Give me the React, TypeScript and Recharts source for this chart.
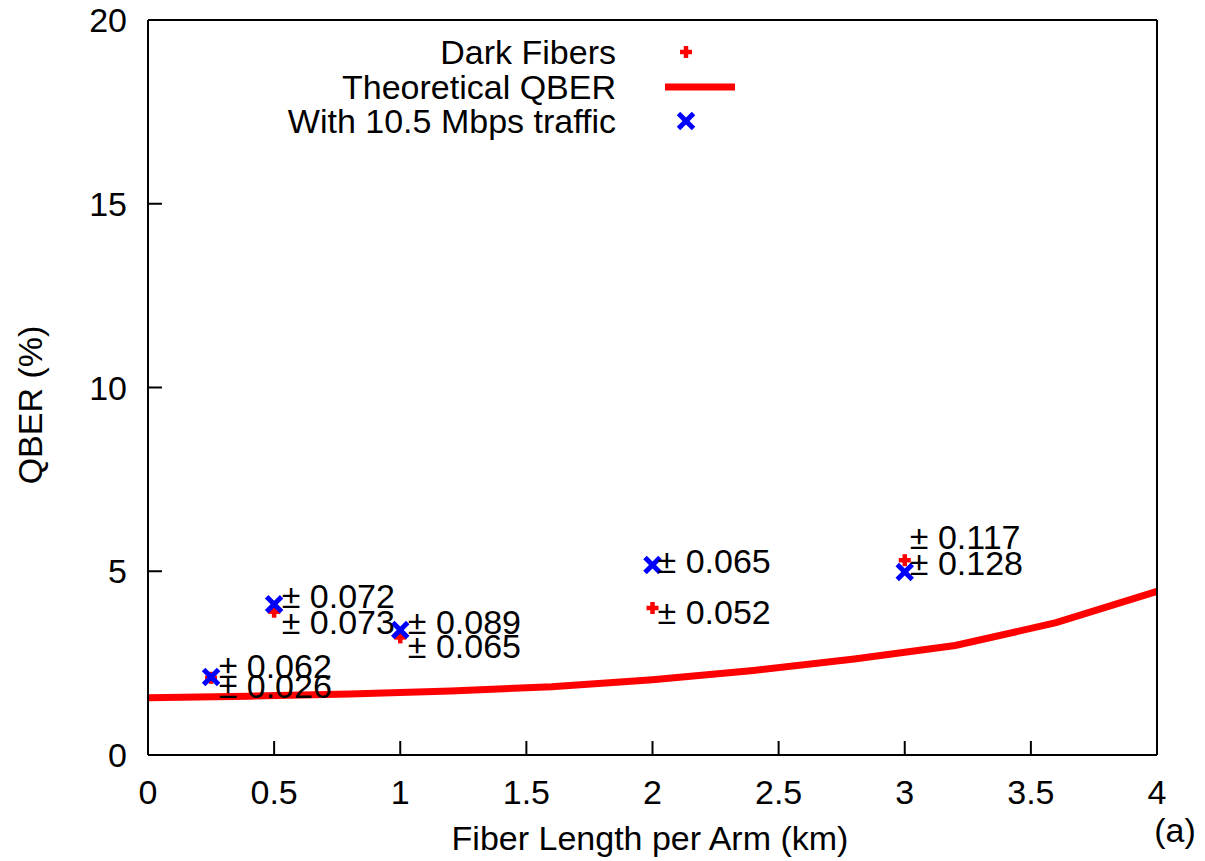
import { ComposedChart, Line, Scatter, XAxis, YAxis } from "recharts";

// measured points per fiber length
const lengths = [0.25, 0.5, 1, 2, 3];
const darkQber = [2.1, 3.9, 3.2, 4.0, 5.3];
const trafficQber = [2.12, 4.1, 3.4, 5.17, 4.98];
const darkErr = ["0.026", "0.073", "0.065", "0.052", "0.117"];
const trafficErr = ["0.062", "0.072", "0.089", "0.065", "0.128"];

// annotation anchors (data coords)
const labelX = [0.28, 0.53, 1.03, 2.02, 3.02];
const darkLabelY = [1.88, 3.62, 2.97, 3.89, 5.93];
const trafficLabelY = [2.42, 4.33, 3.62, 5.28, 5.22];

// theoretical curve
const theoryX = [0, 0.4, 0.8, 1.2, 1.6, 2.0, 2.4, 2.8, 3.2, 3.6, 4.0];
const theoryY = [1.56, 1.6, 1.66, 1.74, 1.86, 2.05, 2.3, 2.61, 2.98, 3.6, 4.45];

const xTicks = [0, 0.5, 1, 1.5, 2, 2.5, 3, 3.5, 4];
const yTicks = [0, 5, 10, 15, 20];

const FONT = "'Liberation Sans', Arial, Helvetica, sans-serif";
const FS = 34;
const RED = "#ff0000";
const BLUE = "#0000ff";
const TICK = 14;

const darkData = lengths.map((x, i) => ({ x, y: darkQber[i] }));
const trafficData = lengths.map((x, i) => ({ x, y: trafficQber[i] }));
const theoryData = theoryX.map((x, i) => ({ x, y: theoryY[i] }));
const labelData = [
  ...lengths.map((_, i) => ({ x: labelX[i], y: darkLabelY[i], text: "± " + darkErr[i] })),
  ...lengths.map((_, i) => ({ x: labelX[i], y: trafficLabelY[i], text: "± " + trafficErr[i] })),
];

const Plus = ({ cx, cy }: any) => (
  <g stroke={RED} strokeWidth={4.5}>
    <line x1={cx - 6} y1={cy} x2={cx + 6} y2={cy} />
    <line x1={cx} y1={cy - 6} x2={cx} y2={cy + 6} />
  </g>
);

const Cross = ({ cx, cy }: any) => (
  <g stroke={BLUE} strokeWidth={5}>
    <line x1={cx - 7.5} y1={cy - 7.5} x2={cx + 7.5} y2={cy + 7.5} />
    <line x1={cx - 7.5} y1={cy + 7.5} x2={cx + 7.5} y2={cy - 7.5} />
  </g>
);

const LabelText = ({ cx, cy, payload }: any) => (
  <text x={cx} y={cy} dominantBaseline="central" fontFamily={FONT} fontSize={FS} fill="#000">
    {payload.text}
  </text>
);

const BottomTick = ({ x, y, payload }: any) => (
  <g>
    <line x1={x} y1={y} x2={x} y2={y - TICK} stroke="#000" strokeWidth={2} />
    <text x={x} y={y + 37} textAnchor="middle" dominantBaseline="central" fontFamily={FONT} fontSize={FS} fill="#000">
      {payload.value}
    </text>
  </g>
);

const TopTick = ({ x, y }: any) => (
  <line x1={x} y1={y} x2={x} y2={y + TICK} stroke="#000" strokeWidth={2} />
);

const LeftTick = ({ x, y, payload }: any) => (
  <g>
    <line x1={x} y1={y} x2={x + TICK} y2={y} stroke="#000" strokeWidth={2} />
    <text x={x - 21} y={y} textAnchor="end" dominantBaseline="central" fontFamily={FONT} fontSize={FS} fill="#000">
      {payload.value}
    </text>
  </g>
);

const RightTick = ({ x, y }: any) => (
  <line x1={x} y1={y} x2={x - TICK} y2={y} stroke="#000" strokeWidth={2} />
);

const KeyBox = () => (
  <svg width={800} height={150} style={{ position: "absolute", left: 0, top: 0 }}>
    <g fontFamily={FONT} fontSize={FS} fill="#000" textAnchor="end">
      <text x={616} y={52} dominantBaseline="central">Dark Fibers</text>
      <text x={616} y={87} dominantBaseline="central">Theoretical QBER</text>
      <text x={616} y={121} dominantBaseline="central">With 10.5 Mbps traffic</text>
    </g>
    <Plus cx={686} cy={52} />
    <line x1={665} y1={87} x2={735} y2={87} stroke={RED} strokeWidth={7} />
    <Cross cx={686} cy={121} />
  </svg>
);

export default function App() {
  const axisLine = { stroke: "#000", strokeWidth: 2 };
  return (
    <div style={{ position: "absolute", left: 0, top: 0, background: "#fff" }}>
      <ComposedChart width={1205} height={861} margin={{ top: 0, right: 0, bottom: 0, left: 0 }}>
        <XAxis
          xAxisId="bottom"
          dataKey="x"
          type="number"
          domain={[0, 4]}
          ticks={xTicks}
          height={106}
          tickSize={0}
          tickMargin={0}
          tickLine={false}
          axisLine={axisLine}
          tick={<BottomTick />}
          interval={0}
        />
        <XAxis
          xAxisId="top"
          orientation="top"
          type="number"
          domain={[0, 4]}
          ticks={xTicks}
          height={20}
          tickSize={0}
          tickMargin={0}
          tickLine={false}
          axisLine={axisLine}
          tick={<TopTick />}
          interval={0}
        />
        <YAxis
          yAxisId="left"
          type="number"
          domain={[0, 20]}
          ticks={yTicks}
          width={148}
          tickSize={0}
          tickMargin={0}
          tickLine={false}
          axisLine={axisLine}
          tick={<LeftTick />}
          interval={0}
        />
        <YAxis
          yAxisId="right"
          orientation="right"
          type="number"
          domain={[0, 20]}
          ticks={yTicks}
          width={48}
          tickSize={0}
          tickMargin={0}
          tickLine={false}
          axisLine={axisLine}
          tick={<RightTick />}
          interval={0}
        />
        <Line
          xAxisId="bottom"
          yAxisId="left"
          data={theoryData}
          dataKey="y"
          type="linear"
          stroke={RED}
          strokeWidth={7}
          dot={false}
          isAnimationActive={false}
        />
        <Scatter xAxisId="bottom" yAxisId="left" data={darkData} dataKey="y" shape={<Plus />} isAnimationActive={false} />
        <Scatter xAxisId="bottom" yAxisId="left" data={trafficData} dataKey="y" shape={<Cross />} isAnimationActive={false} />
        <Scatter xAxisId="bottom" yAxisId="left" data={labelData} dataKey="y" shape={<LabelText />} isAnimationActive={false} />
      </ComposedChart>
      <div
        style={{
          position: "absolute",
          left: 0,
          top: 0,
          width: 1205,
          height: 861,
          pointerEvents: "none",
          fontFamily: FONT,
          fontSize: FS,
        }}
      >
        <KeyBox />
        <div style={{ position: "absolute", left: 30, top: 405, transform: "translate(-50%, -50%) rotate(-90deg)", whiteSpace: "nowrap" }}>
          QBER (%)
        </div>
        <div style={{ position: "absolute", left: 650, top: 838, transform: "translate(-50%, -50%)", whiteSpace: "nowrap" }}>
          Fiber Length per Arm (km)
        </div>
        <div style={{ position: "absolute", left: 1175, top: 830, transform: "translate(-50%, -50%)", whiteSpace: "nowrap" }}>
          (a)
        </div>
      </div>
    </div>
  );
}
